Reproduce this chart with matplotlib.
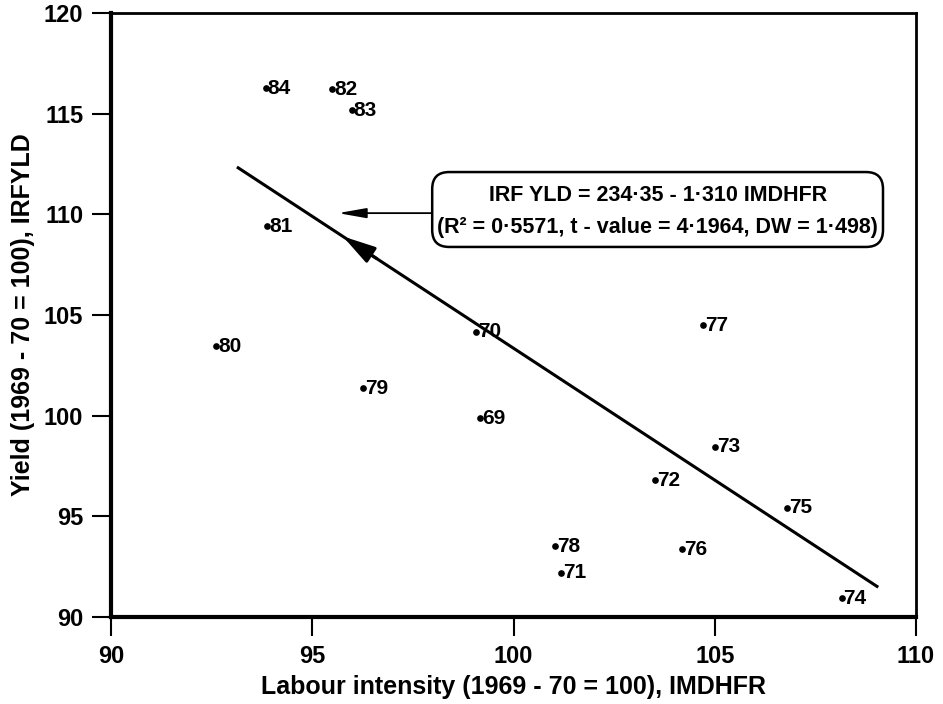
import numpy as np
from matplotlib import pyplot as plt
from matplotlib.patches import FancyBboxPatch

plt.rcParams['font.family'] = ['Liberation Sans', 'DejaVu Sans']
plt.rcParams['font.weight'] = 'bold'

# data
years = ['69', '70', '71', '72', '73', '74', '75', '76', '77', '78',
         '79', '80', '81', '82', '83', '84']
labour = [99.17, 99.08, 101.18, 103.52, 105.00, 108.15, 106.80, 104.18,
          104.70, 101.03, 96.27, 92.61, 93.88, 95.50, 95.98, 93.84]
yld = [99.87, 104.17, 92.20, 96.80, 98.46, 90.92, 95.43, 93.37,
       104.50, 93.52, 101.37, 103.46, 109.42, 116.21, 115.18, 116.26]

intercept = 234.35
slope = -1.310
line_x = [93.16, 109.03]

x_ticks = [90, 95, 100, 105, 110]
y_ticks = [90, 95, 100, 105, 110, 115, 120]

fig = plt.figure(figsize=(9.43, 7.04), dpi=100)
ax = fig.add_axes([111/943, 1-617/704, (916-111)/943, (617-13)/704])

ax.plot(labour, yld, 'o', color='black', markersize=3.8, linestyle='none')
for xv, yv, lab in zip(labour, yld, years):
    ax.annotate(lab, (xv, yv), xytext=(1.5, 0), textcoords='offset points',
                ha='left', va='center', fontsize=15, fontweight='bold')

lx = np.array(line_x)
ax.plot(lx, intercept + slope*lx, color='black', linewidth=2.2)

# arrow head on the fitted line
ax.annotate('', xy=(95.76, intercept + slope*95.76),
            xytext=(96.60, intercept + slope*96.60),
            arrowprops=dict(arrowstyle='-|>,head_length=2.0,head_width=0.55',
                            color='black', linewidth=2.2, shrinkA=0, shrinkB=0))

# equation box with pointer
box_left, box_right = 97.98, 109.18
box_bot, box_top = 108.38, 112.1
ax.add_patch(FancyBboxPatch((box_left, box_bot), box_right-box_left, box_top-box_bot,
                            boxstyle='round,pad=0,rounding_size=0.42',
                            mutation_aspect=2.0,
                            facecolor='white', edgecolor='black', linewidth=1.8,
                            zorder=3))
ax.annotate('', xy=(95.64, 110.06), xytext=(box_left, 110.06),
            arrowprops=dict(arrowstyle='-|>,head_length=1.7,head_width=0.3',
                            color='black', linewidth=1.3, shrinkA=0, shrinkB=0))
box_cx = (box_left + box_right)/2
ax.text(box_cx, 110.96, 'IRF YLD = 234·35 - 1·310 IMDHFR', ha='center', va='center',
        fontsize=15.5, fontweight='bold', zorder=4)
ax.text(box_cx, 109.37, '(R² = 0·5571, t - value = 4·1964, DW = 1·498)', ha='center',
        va='center', fontsize=15.5, fontweight='bold', zorder=4)

ax.set_xlim(90, 110)
ax.set_ylim(90, 120)
ax.set_xticks(x_ticks)
ax.set_yticks(y_ticks)
ax.tick_params(axis='both', direction='out', length=14, width=1.5, labelsize=17, pad=6)
for lab in ax.get_xticklabels() + ax.get_yticklabels():
    lab.set_fontweight('bold')

for side in ['left', 'bottom']:
    ax.spines[side].set_linewidth(3)
for side in ['top', 'right']:
    ax.spines[side].set_linewidth(2)

ax.set_xlabel('Labour intensity (1969 - 70 = 100), IMDHFR', fontsize=18,
              fontweight='bold', labelpad=5)
ax.set_ylabel('Yield (1969 - 70 = 100), IRFYLD', fontsize=18,
              fontweight='bold', labelpad=6)

plt.savefig('out.png', dpi=100)
